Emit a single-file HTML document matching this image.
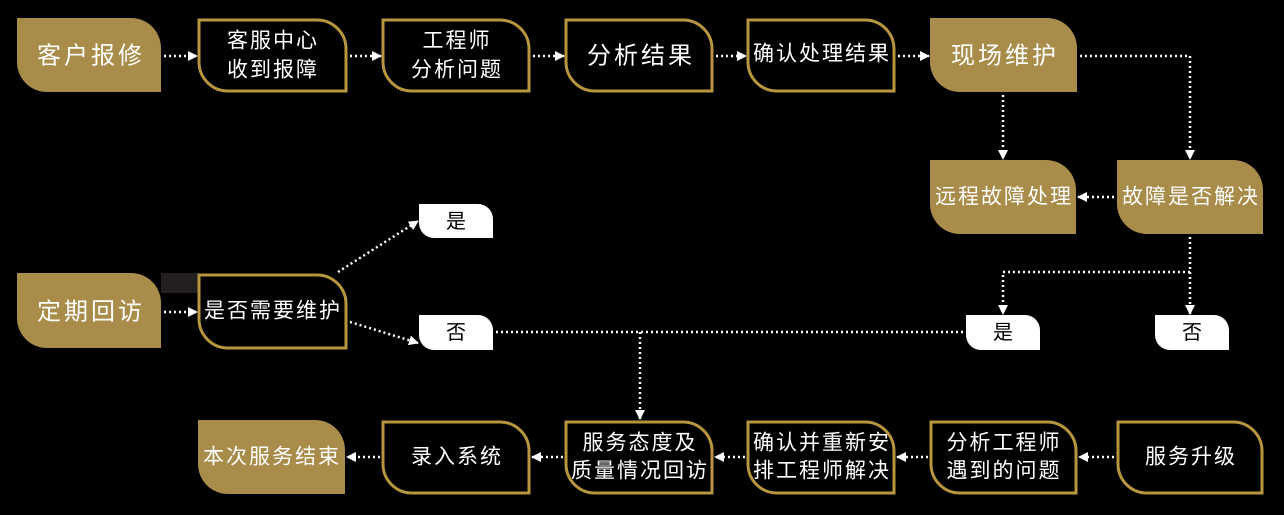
<!DOCTYPE html>
<html><head><meta charset="utf-8"><style>
html,body{margin:0;padding:0;background:#000;}
svg{display:block}
text{font-family:"Liberation Sans","Noto Sans CJK SC",sans-serif;fill:#fff;text-anchor:middle;dominant-baseline:central;}
.g{fill:#a98b4a}
.b{fill:#000;stroke:#b8963f;stroke-width:3}
.w{fill:#fff}
.c{stroke:#fff;stroke-width:2.5;stroke-dasharray:2 3;fill:none}
</style></head><body>
<svg width="1284" height="515" viewBox="0 0 1284 515">
<defs>
<marker id="a" viewBox="0 0 10 10" refX="9" refY="5" markerWidth="4" markerHeight="4" orient="auto"><path d="M0,0L10,5L0,10z" fill="#fff"/></marker>
</defs>
<rect x="161" y="273" width="38" height="20" fill="#231f1f"/>
<path class="g" d="M17,18H131A30,30 0 0 1 161,48V92H47A30,30 0 0 1 17,62Z"/>
<path class="g" d="M930,18H1047A30,30 0 0 1 1077,48V92H960A30,30 0 0 1 930,62Z"/>
<path class="g" d="M930,160H1046A30,30 0 0 1 1076,190V234H960A30,30 0 0 1 930,204Z"/>
<path class="g" d="M1117,160H1233A30,30 0 0 1 1263,190V234H1147A30,30 0 0 1 1117,204Z"/>
<path class="g" d="M17,273H131A30,30 0 0 1 161,303V348H47A30,30 0 0 1 17,318Z"/>
<path class="g" d="M198,420H315A30,30 0 0 1 345,450V494H228A30,30 0 0 1 198,464Z"/>
<path class="b" d="M199,20H317A29,29 0 0 1 346,49V91H228A29,29 0 0 1 199,62Z"/>
<path class="b" d="M383,20H500A29,29 0 0 1 529,49V91H412A29,29 0 0 1 383,62Z"/>
<path class="b" d="M566,20H683A29,29 0 0 1 712,49V91H595A29,29 0 0 1 566,62Z"/>
<path class="b" d="M748,20H865A29,29 0 0 1 894,49V91H777A29,29 0 0 1 748,62Z"/>
<path class="b" d="M199,275H317A29,29 0 0 1 346,304V348H228A29,29 0 0 1 199,319Z"/>
<path class="b" d="M383,422H500A29,29 0 0 1 529,451V493H412A29,29 0 0 1 383,464Z"/>
<path class="b" d="M566,422H683A29,29 0 0 1 712,451V493H595A29,29 0 0 1 566,464Z"/>
<path class="b" d="M748,422H865A29,29 0 0 1 894,451V493H777A29,29 0 0 1 748,464Z"/>
<path class="b" d="M931,422H1047A29,29 0 0 1 1076,451V493H960A29,29 0 0 1 931,464Z"/>
<path class="b" d="M1118,422H1233A29,29 0 0 1 1262,451V493H1147A29,29 0 0 1 1118,464Z"/>
<path class="w" d="M419,204H478A15,15 0 0 1 493,219V238H434A15,15 0 0 1 419,223Z"/>
<path class="w" d="M419,315H478A15,15 0 0 1 493,330V350H434A15,15 0 0 1 419,335Z"/>
<path class="w" d="M966,315H1025A15,15 0 0 1 1040,330V350H981A15,15 0 0 1 966,335Z"/>
<path class="w" d="M1155,315H1214A15,15 0 0 1 1229,330V350H1170A15,15 0 0 1 1155,335Z"/>
<g class="c" marker-end="url(#a)">
<path d="M164,56H197"/><path d="M350,56H381"/><path d="M533,56H564"/><path d="M716,56H746"/><path d="M898,56H929"/>
<path d="M1080,56H1190V159"/><path d="M1003,95V159"/>
<path d="M1114,197H1078"/>
<path d="M1190,237V314"/><path d="M1190,272H1003V314"/>
<path d="M640,332V419"/>
<path d="M164,312H197"/>
<path d="M338,272L418,221"/><path d="M350,322L418,343"/>
<path d="M1114,457H1079"/><path d="M928,457H897"/><path d="M745,457H715"/><path d="M563,457H532"/><path d="M380,457H347"/>
</g>
<path class="c" d="M496,332H964"/>
<g font-size="24" letter-spacing="3">
<text x="91" y="56">客户报修</text>
<text x="1005" y="56">现场维护</text>
<text x="641" y="56">分析结果</text>
<text x="91" y="312">定期回访</text>
</g>
<g font-size="21" letter-spacing="2">
<text x="273" y="41">客服中心</text><text x="273" y="70">收到报障</text>
<text x="457" y="41">工程师</text><text x="457" y="70">分析问题</text>
<text x="822" y="54">确认处理结果</text>
<text x="1004" y="197">远程故障处理</text>
<text x="1191" y="197">故障是否解决</text>
<text x="273" y="311">是否需要维护</text>
<text x="272" y="457">本次服务结束</text>
<text x="457" y="457">录入系统</text>
<text x="640" y="443">服务态度及</text><text x="640" y="471">质量情况回访</text>
<text x="822" y="443">确认并重新安</text><text x="822" y="471">排工程师解决</text>
<text x="1004" y="443">分析工程师</text><text x="1004" y="471">遇到的问题</text>
<text x="1191" y="457">服务升级</text>
</g>
<g font-size="20">
<text x="456" y="222" style="fill:#000">是</text>
<text x="456" y="333" style="fill:#000">否</text>
<text x="1003" y="333" style="fill:#000">是</text>
<text x="1192" y="333" style="fill:#000">否</text>
</g>
</svg>
</body></html>
